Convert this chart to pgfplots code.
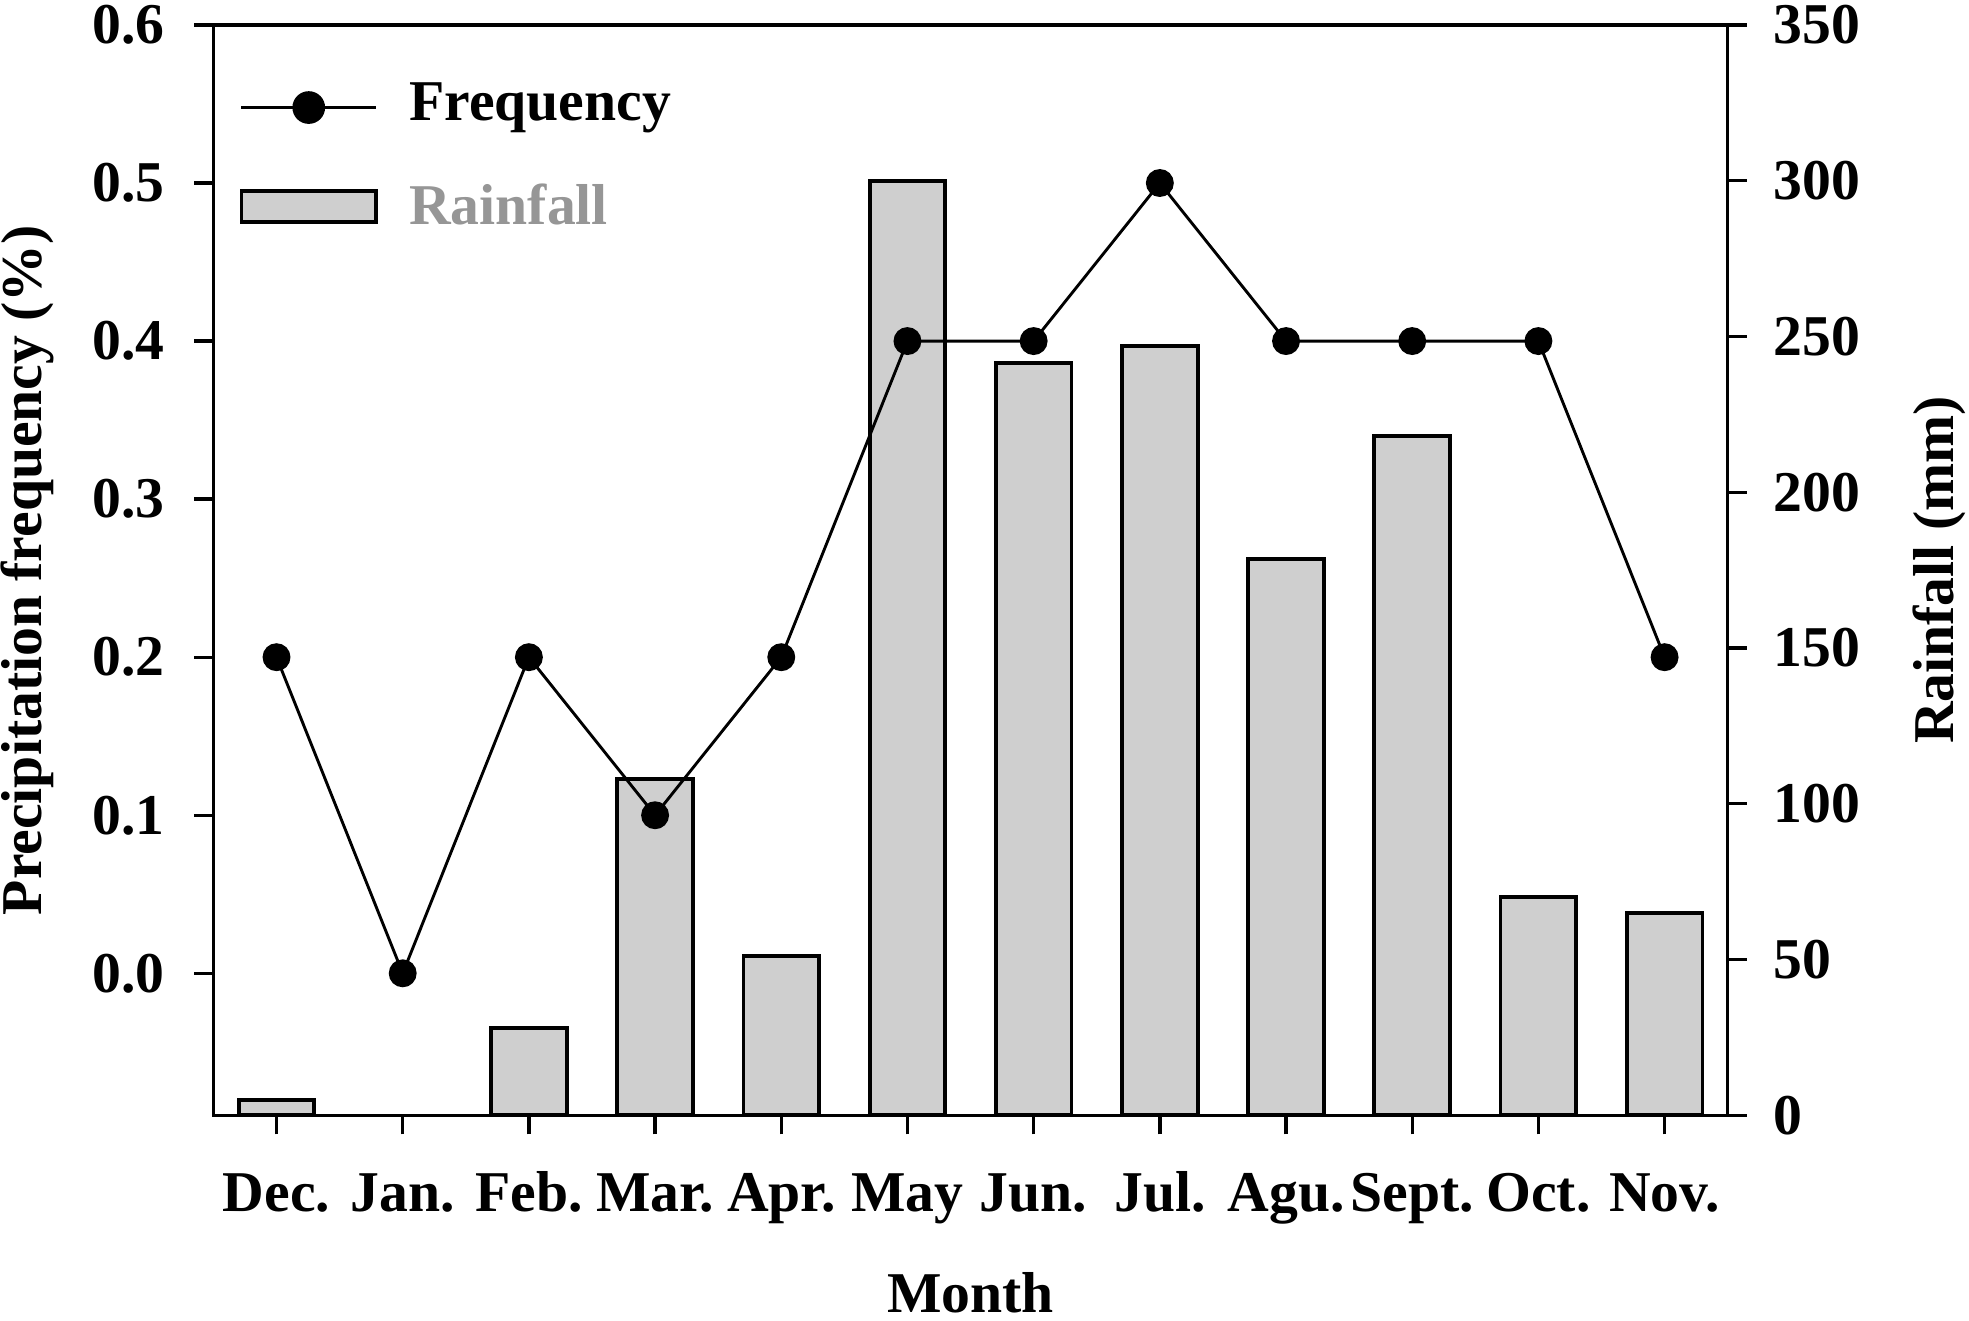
\documentclass[border=0pt]{standalone}
\usepackage{pgfplots}
\pgfplotsset{compat=1.18}
\usepackage{fontspec}
\setmainfont{Liberation Serif}
\definecolor{bargray}{RGB}{207,207,207}
\definecolor{leggray}{RGB}{150,150,150}
\begin{document}
\fontsize{12}{14}\selectfont\bfseries
\begin{tikzpicture}
\pgfplotsset{
  common/.style={
    scale only axis, width=315pt, height=226.8pt,
    xmin=-0.5, xmax=11.5,
    tick align=outside, major tick length=4pt,
    axis line style={line width=0.7pt},
    every tick/.style={line width=0.7pt, black},
    tick label style={font=\fontsize{12}{14}\selectfont\bfseries},
    label style={font=\fontsize{12}{14}\selectfont\bfseries},
    /pgf/number format/assume math mode=true,
  }
}
\begin{axis}[common,
  ymin=0, ymax=350,
  xtick={0,1,2,3,4,5,6,7,8,9,10,11},
  xticklabels={Dec.,Jan.,Feb.,Mar.,Apr.,May,Jun.,Jul.,Agu.,Sept.,Oct.,Nov.},
  xtick pos=bottom, xticklabel pos=bottom,
  ytick={0,50,100,150,200,250,300,350},
  ytick pos=right, yticklabel pos=right,
  xticklabel style={anchor=base, yshift=-16pt},
  yticklabel style={anchor=west, inner sep=0pt, xshift=5.3pt},
  xlabel={Month},
  xlabel style={at={(axis description cs:0.5,-0.163)}, anchor=center},
  ylabel={Rainfall (mm)},
  ylabel style={at={(axis description cs:1.140,0.5)}, anchor=center},
]
\addplot[ybar, bar width=0.6, fill=bargray, draw=black, line width=0.8pt]
  coordinates {(0,5) (2,28) (3,108) (4,51) (5,300) (6,241.5) (7,247) (8,178.6) (9,218) (10,70) (11,65)};
\end{axis}
\begin{axis}[common,
  ymin=-0.0898, ymax=0.6,
  xtick=\empty,
  ytick={0,0.1,0.2,0.3,0.4,0.5,0.6},
  ytick pos=left, yticklabel pos=left,
  yticklabel style={anchor=east, inner sep=0pt, xshift=-6pt,
    /pgf/number format/.cd, fixed, fixed zerofill, precision=1},
  ylabel={Precipitation frequency (\%)},
  ylabel style={at={(axis description cs:-0.1227,0.5)}, anchor=center},
  legend style={at={(axis description cs:0.0166,0.9485)}, anchor=north west,
    draw=none, fill=none, inner sep=0pt,
    font=\fontsize{12}{14}\selectfont\bfseries,
    row sep=11.1pt,
    nodes={inner sep=0pt, text height=8pt, text depth=2.6pt}},
  legend cell align=left,
]
\addplot[black, line width=0.6pt, mark=*, mark size=2.6pt,
  legend image code/.code={\draw[black, line width=0.6pt, mark=*, mark size=3.1pt, mark repeat=2, mark phase=2] plot coordinates {(0pt,0pt) (14pt,0pt) (28pt,0pt)};}]
  coordinates {(0,0.2) (1,0) (2,0.2) (3,0.1) (4,0.2) (5,0.4) (6,0.4) (7,0.5) (8,0.4) (9,0.4) (10,0.4) (11,0.2)};
\addlegendentry{\hspace*{6.5pt}Frequency}
\addlegendimage{legend image code/.code={\draw[fill=bargray, draw=black, line width=0.8pt] (0pt,-2.1pt) rectangle (28pt,4.4pt);}}
\addlegendentry{\hspace*{6.5pt}\textcolor{leggray}{Rainfall}}
\end{axis}
\pgfresetboundingbox
\path[use as bounding box] (-44.4pt,-42.6pt) rectangle (365.2pt,232pt);
\end{tikzpicture}
\end{document}
